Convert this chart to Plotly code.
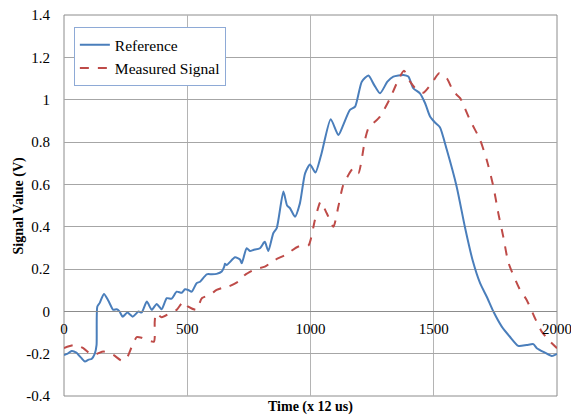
import plotly.graph_objects as go

ref_x = [0, 15, 31, 50, 70, 85, 100, 112, 125, 132, 135, 145, 162, 180, 200, 214, 225, 238, 257, 279, 302, 315, 336, 356, 376, 396, 417, 437, 457, 478, 491, 504, 518, 538, 552, 579, 600, 619, 640, 650, 653, 660, 694, 714, 721, 741, 755, 768, 795, 811, 815, 829, 849, 863, 890, 905, 917, 937, 957, 978, 998, 1020, 1045, 1082, 1113, 1133, 1160, 1181, 1208, 1235, 1258, 1282, 1312, 1336, 1377, 1397, 1417, 1444, 1465, 1485, 1505, 1525, 1553, 1593, 1627, 1658, 1688, 1715, 1742, 1776, 1809, 1843, 1877, 1904, 1918, 1951, 1979, 2000]
ref_y = [-0.206, -0.2, -0.187, -0.195, -0.22, -0.237, -0.228, -0.225, -0.2, -0.16, 0.022, 0.04, 0.082, 0.05, 0.007, 0.01, 0.0, -0.025, -0.006, -0.025, -0.001, -0.005, 0.046, 0.007, 0.035, 0.01, 0.062, 0.06, 0.093, 0.088, 0.104, 0.101, 0.093, 0.133, 0.14, 0.175, 0.175, 0.177, 0.188, 0.211, 0.225, 0.219, 0.255, 0.245, 0.227, 0.298, 0.285, 0.29, 0.298, 0.325, 0.329, 0.285, 0.369, 0.393, 0.566, 0.5, 0.487, 0.447, 0.51, 0.652, 0.694, 0.656, 0.747, 0.908, 0.833, 0.881, 0.952, 0.967, 1.085, 1.114, 1.07, 1.03, 1.085, 1.109, 1.117, 1.109, 1.054, 1.03, 0.983, 0.92, 0.892, 0.87, 0.763, 0.589, 0.395, 0.24, 0.133, 0.069, -0.001, -0.072, -0.12, -0.163, -0.159, -0.155, -0.174, -0.195, -0.211, -0.201]

meas_x = [0, 20, 45, 78, 112, 135, 160, 200, 234, 254, 275, 295, 315, 336, 365, 368, 373, 396, 430, 457, 484, 504, 538, 559, 592, 619, 640, 667, 707, 734, 775, 815, 856, 897, 951, 991, 1018, 1041, 1066, 1093, 1113, 1133, 1174, 1194, 1221, 1235, 1282, 1323, 1356, 1379, 1404, 1431, 1458, 1492, 1522, 1553, 1580, 1607, 1647, 1688, 1715, 1742, 1762, 1782, 1803, 1850, 1877, 1911, 1938, 1972, 2000]
meas_y = [-0.174, -0.165, -0.159, -0.174, -0.206, -0.2, -0.19, -0.206, -0.233, -0.222, -0.167, -0.122, -0.125, -0.135, -0.143, -0.05, -0.009, -0.028, -0.009, 0.007, 0.046, 0.022, 0.007, 0.062, 0.078, 0.101, 0.11, 0.117, 0.14, 0.172, 0.199, 0.211, 0.243, 0.266, 0.306, 0.31, 0.432, 0.518, 0.463, 0.4, 0.495, 0.597, 0.676, 0.652, 0.81, 0.865, 0.92, 1.007, 1.093, 1.137, 1.085, 1.046, 1.033, 1.078, 1.125, 1.101, 1.038, 1.007, 0.904, 0.81, 0.715, 0.589, 0.463, 0.353, 0.23, 0.101, 0.054, -0.033, -0.096, -0.143, -0.174]

x_ticks = [0, 500, 1000, 1500, 2000]
y_ticks = [-0.4, -0.2, 0, 0.2, 0.4, 0.6, 0.8, 1.0, 1.2, 1.4]
y_tick_text = ["-0.4", "-0.2", "0", "0.2", "0.4", "0.6", "0.8", "1", "1.2", "1.4"]

FONT = "Liberation Serif"

fig = go.Figure()
fig.add_trace(go.Scatter(x=ref_x, y=ref_y, mode="lines", name="Reference",
                         line=dict(color="#4a7ebb", width=2, shape="spline", smoothing=0.6)))
fig.add_trace(go.Scatter(x=meas_x, y=meas_y, mode="lines", name="Measured Signal",
                         line=dict(color="#be4b48", width=2, dash="dash", shape="spline", smoothing=0.6)))

fig.update_layout(
    width=571, height=416,
    margin=dict(l=64, r=14, t=15, b=20),
    paper_bgcolor="white", plot_bgcolor="white",
    font=dict(family=FONT, size=14, color="black"),
    showlegend=True,
    legend=dict(x=0.02, y=0.968, xanchor="left", yanchor="top",
                bgcolor="white", bordercolor="#8eaad6", borderwidth=1,
                font=dict(family=FONT, size=15.5), itemwidth=30,
                tracegroupgap=0),
    xaxis=dict(range=[0, 2000], tickvals=x_ticks, showgrid=True,
               gridcolor="#b4b4b4", gridwidth=1, zeroline=False,
               anchor="free", position=(0 - (-0.4)) / 1.8,
               showline=True, linecolor="#8c8c8c", linewidth=1,
               ticks="", tickfont=dict(family=FONT, size=15),
               ticklabelstandoff=4, ticklabeloverflow="allow", automargin=False),
    yaxis=dict(range=[-0.4, 1.4], tickvals=y_ticks, ticktext=y_tick_text,
               showgrid=True, gridcolor="#a6a6a6", gridwidth=1, zeroline=False,
               showline=False, ticks="", tickfont=dict(family=FONT, size=15),
               ticklabelstandoff=13, automargin=False),
    shapes=[dict(type="rect", xref="paper", yref="paper", x0=0, y0=0, x1=1, y1=1,
                 line=dict(color="#8c8c8c", width=1), layer="below")],
    annotations=[
        dict(text="<b>Time (x 12 us)</b>", xref="paper", yref="paper", x=0.5, y=0,
             yshift=-11, showarrow=False, yanchor="middle",
             font=dict(family=FONT, size=14)),
        dict(text="<b>Signal Value (V)</b>", xref="paper", yref="paper", x=0, y=0.5,
             xshift=-46, textangle=-90, showarrow=False, xanchor="center",
             font=dict(family=FONT, size=14)),
    ],
)

fig.write_html("out.html", config={"displayModeBar": False},
               post_script="document.body.style.margin='0';document.body.style.padding='0';")
